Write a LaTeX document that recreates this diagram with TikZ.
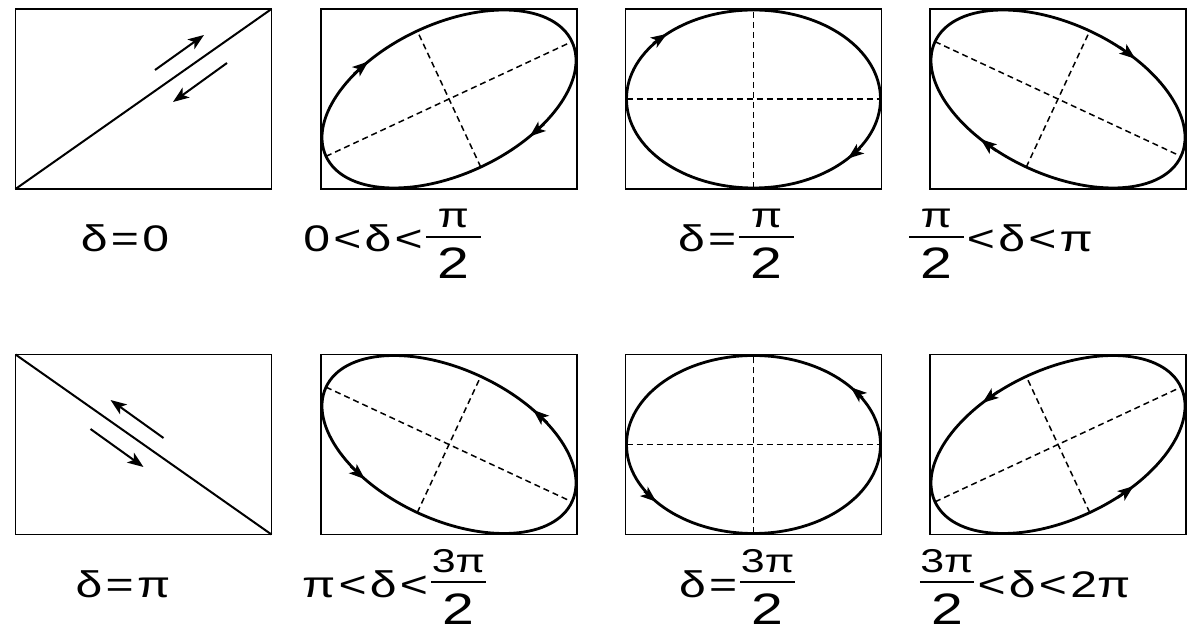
\documentclass[tikz,border=0pt]{standalone}
\usepackage{fontspec}
\setmainfont{Liberation Sans}
\usepackage{graphicx}
\usetikzlibrary{arrows.meta}
\newcommand{\fr}[3]{\lower27pt\vbox{\halign{\hbox to 42pt{\hfil##\hfil}\cr
  \fontsize{#1}{#1}\selectfont #2\cr
  \noalign{\kern8pt\hrule height 2.2pt\kern10pt}
  \fontsize{44}{44}\selectfont #3\cr}}}
\newcommand{\rl}[1]{\hspace{2.5pt}#1\hspace{2.5pt}}
\newcommand{\lab}[1]{\scalebox{1.3}[1]{\fontsize{37}{44}\selectfont #1}}
\newcommand{\earr}[4]{\draw[tip] ({#1*cos(#3)+#4*0.15*#1*sin(#3)},{#2*sin(#3)-#4*0.15*#2*cos(#3)}) -- ({#1*cos(#3)},{#2*sin(#3)});}
\tikzset{
  frame/.style={draw=black, line width=1.8pt, minimum width=256pt, minimum height=180pt, inner sep=0pt, outer sep=0pt},
  curve/.style={draw=black, line width=2.8pt},
  axis/.style={draw=black, line width=1.5pt, dash pattern=on 6pt off 4pt},
  tip/.style={-{Stealth[length=16pt,width=12pt,inset=4pt]}, line width=1.6pt},
  labnode/.style={anchor=base, inner sep=0pt, outer sep=0pt}
}
\begin{document}
\begin{tikzpicture}[x=1pt,y=1pt]
\useasboundingbox (0,0) rectangle (1193,637);
% frames
\node[frame] (b1) at (143.5,538) {};
\node[frame] (b2) at (449,538) {};
\node[frame] (b3) at (753.5,538) {};
\node[frame] (b4) at (1058,538) {};
\node[frame] (b5) at (143.5,192.5) {};
\node[frame] (b6) at (449,192.5) {};
\node[frame] (b7) at (753.5,192.5) {};
\node[frame] (b8) at (1058,192.5) {};
% panel 1: delta = 0
\draw[curve, line width=2pt] (b1.south west) -- (b1.north east);
\begin{scope}[shift={(b1.center)}]
  \draw[tip, line width=2pt] (11.5,29) -- (60.5,64);
  \draw[tip, line width=2pt] (83.5,36) -- (29.5,-3);
\end{scope}
% panel 2
\begin{scope}[shift={(b2.center)}, rotate=25]
  \draw[curve] (0,0) ellipse [x radius=135.68, y radius=75.1];
  \draw[axis] (-135.68,0) -- (135.68,0);
  \draw[axis] (0,-75.1) -- (0,75.1);
  \earr{135.68}{75.1}{115}{-1}
  \earr{135.68}{75.1}{295}{-1}
\end{scope}
% panel 3
\begin{scope}[shift={(b3.center)}]
  \draw[curve] (0,0) ellipse [x radius=127, y radius=89];
  \draw[axis] (-127,0) -- (127,0);
  \draw[axis] (0,-89) -- (0,89);
  \earr{127}{89}{133}{-1}
  \earr{127}{89}{318}{-1}
\end{scope}
% panel 4
\begin{scope}[shift={(b4.center)}, rotate=-25]
  \draw[curve] (0,0) ellipse [x radius=135.68, y radius=75.1];
  \draw[axis] (-135.68,0) -- (135.68,0);
  \draw[axis] (0,-75.1) -- (0,75.1);
  \earr{135.68}{75.1}{67}{-1}
  \earr{135.68}{75.1}{247}{-1}
\end{scope}
% panel 5: delta = pi
\draw[curve, line width=2pt] (b5.north west) -- (b5.south east);
\begin{scope}[shift={(b5.center)}]
  \draw[tip, line width=2pt] (20,6.5) -- (-33,44.5);
  \draw[tip, line width=2pt] (-53,15.5) -- (0,-22.5);
\end{scope}
% panel 6
\begin{scope}[shift={(b6.center)}, rotate=-25]
  \draw[curve] (0,0) ellipse [x radius=135.68, y radius=75.1];
  \draw[axis] (-135.68,0) -- (135.68,0);
  \draw[axis] (0,-75.1) -- (0,75.1);
  \earr{135.68}{75.1}{63}{1}
  \earr{135.68}{75.1}{243}{1}
\end{scope}
% panel 7
\begin{scope}[shift={(b7.center)}]
  \draw[curve] (0,0) ellipse [x radius=127, y radius=89];
  \draw[axis] (-127,0) -- (127,0);
  \draw[axis] (0,-89) -- (0,89);
  \earr{127}{89}{40}{1}
  \earr{127}{89}{220}{1}
\end{scope}
% panel 8
\begin{scope}[shift={(b8.center)}, rotate=25]
  \draw[curve] (0,0) ellipse [x radius=135.68, y radius=75.1];
  \draw[axis] (-135.68,0) -- (135.68,0);
  \draw[axis] (0,-75.1) -- (0,75.1);
  \earr{135.68}{75.1}{112}{1}
  \earr{135.68}{75.1}{292}{1}
\end{scope}
% labels
\node[labnode] (l1) at (125,385) {\lab{δ\rl{=}0}};
\node[labnode] (l2) at (392,385) {\lab{0\rl{<}δ\rl{<}\fr{35}{π}{2}}};
\node[labnode] (l3) at (736,385) {\lab{δ\rl{=}\fr{35}{π}{2}}};
\node[labnode] (l4) at (1001,385) {\lab{\fr{35}{π}{2}\rl{<}δ\rl{<}π}};
\node[labnode] (l5) at (123,40) {\lab{δ\rl{=}π}};
\node[labnode] (l6) at (394,40) {\lab{π\rl{<}δ\rl{<}\fr{33}{3π}{2}}};
\node[labnode] (l7) at (737,40) {\lab{δ\rl{=}\fr{33}{3π}{2}}};
\node[labnode] (l8) at (1025,40) {\lab{\fr{33}{3π}{2}\rl{<}δ\rl{<}2π}};
\end{tikzpicture}
\end{document}
